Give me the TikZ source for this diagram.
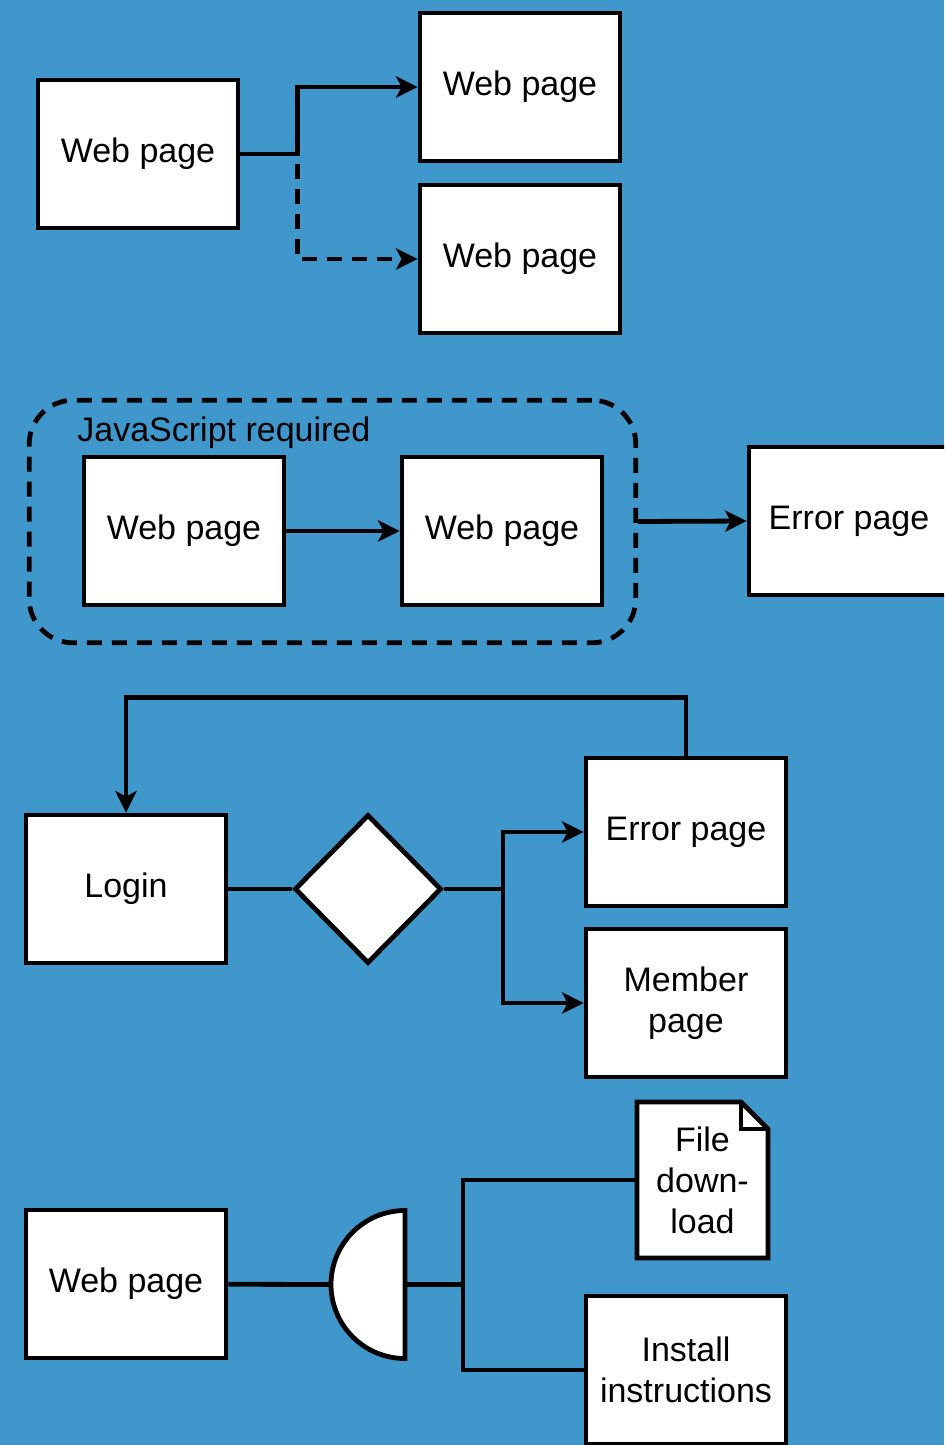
\documentclass[tikz,border=0pt]{standalone}
\usepackage{fontspec}
\setmainfont{Liberation Sans}
\usepackage{tikz}
\usepackage{xcolor}
\usetikzlibrary{calc}
\usetikzlibrary{arrows.meta}
\usetikzlibrary{shapes.geometric}
\definecolor{pageblue}{RGB}{63,151,204}
\tikzset{
  page box/.style = {draw, fill=white, minimum width=100pt, minimum height=74pt,
    inner sep=0pt, align=center}
}
\tikzset{
  decision/.style = {draw, fill=white, diamond, minimum width=73.5pt,
    minimum height=74.5pt, inner sep=0pt}
}
\tikzset{
  group frame/.style = {draw, dash pattern=on 7.5pt off 5pt, rounded corners=22pt,
    minimum width=303.3pt, minimum height=121.3pt}
}
\tikzset{
  dashed link/.style = {dash pattern=on 7.5pt off 5pt, dash phase=7.5pt}
}
\tikzset{
  flow/.style = {-{Stealth[length=11pt, width=11pt, inset=3pt, line width=0pt]}}
}
\tikzset{
  every node/.style = {font = \fontsize{17}{20.5}\selectfont}
}

\begin{document}
\begin{tikzpicture}[x=0.5pt, y=-0.5pt, line width=2.4pt]
  \path[use as bounding box, fill=pageblue] (0,0) rectangle (944,1445);
  \clip (0,0) rectangle (944,1445);

  % Branching pages
  \node[page box] (home) at (138,154) {Web page};
  \node[page box] (next page) at (520,87) {Web page};
  \node[page box] (alt page) at (520,259) {Web page};
  \draw[flow] (home.east) -- ++(57,0) coordinate (split) |- (next page.west);
  \draw[flow, dashed link] (split) |- (alt page.west);

  % JavaScript group
  \node[group frame] (js group) at (332.5,521.5) {};
  \node[anchor=west, inner sep=0pt] (js label) at (75,433) {JavaScript required};
  \node[page box] (js first) at (184,531) {Web page};
  \node[page box] (js second) at (502,531) {Web page};
  \node[page box] (js error) at (849,521) {Error page};
  \draw[flow] (js first) -- (js second);
  \draw[flow] (js group.east) -- (js error.west);

  % Login loop
  \node[page box] (login) at (126,889) {Login};
  \node[decision] (check) at (368,889) {};
  \node[page box] (login error) at (686,832) {Error page};
  \node[page box] (member) at (686,1003) {Member\\page};
  \draw (login) -- (check);
  \draw[flow] (check.east) -- ++(59,0) coordinate (fork) |- (login error.west);
  \draw[flow] (fork) |- (member.west);
  \draw[flow] (login error.north) -- ++(0,-58) -| (login.north);

  % Download split
  \node[page box] (start) at (126,1284) {Web page};
  \coordinate (gate in) at (331,1284.5);
  \coordinate (gate out) at (405,1284.5);
  \draw[fill=white] (405,1210.5) arc[start angle=270, end angle=90, radius=74] -- cycle;
  \draw[fill=white] (637,1102) -- (741,1102) -- (768,1129) -- (768,1258)
    -- (637,1258) -- cycle;
  \draw (741,1102) -- (741,1129) -- (768,1129);
  \node[minimum width=65.5pt, minimum height=78pt, inner sep=0pt, align=center]
    (download) at (702.5,1180) {File\\down-\\load};
  \node[page box] (install) at (686,1370) {Install\\instructions};
  \draw (start) -- (gate in);
  \draw (gate out) -- ++(58,0) coordinate (branch) |- (download.west);
  \draw (branch) |- (install.west);
\end{tikzpicture}
\end{document}
